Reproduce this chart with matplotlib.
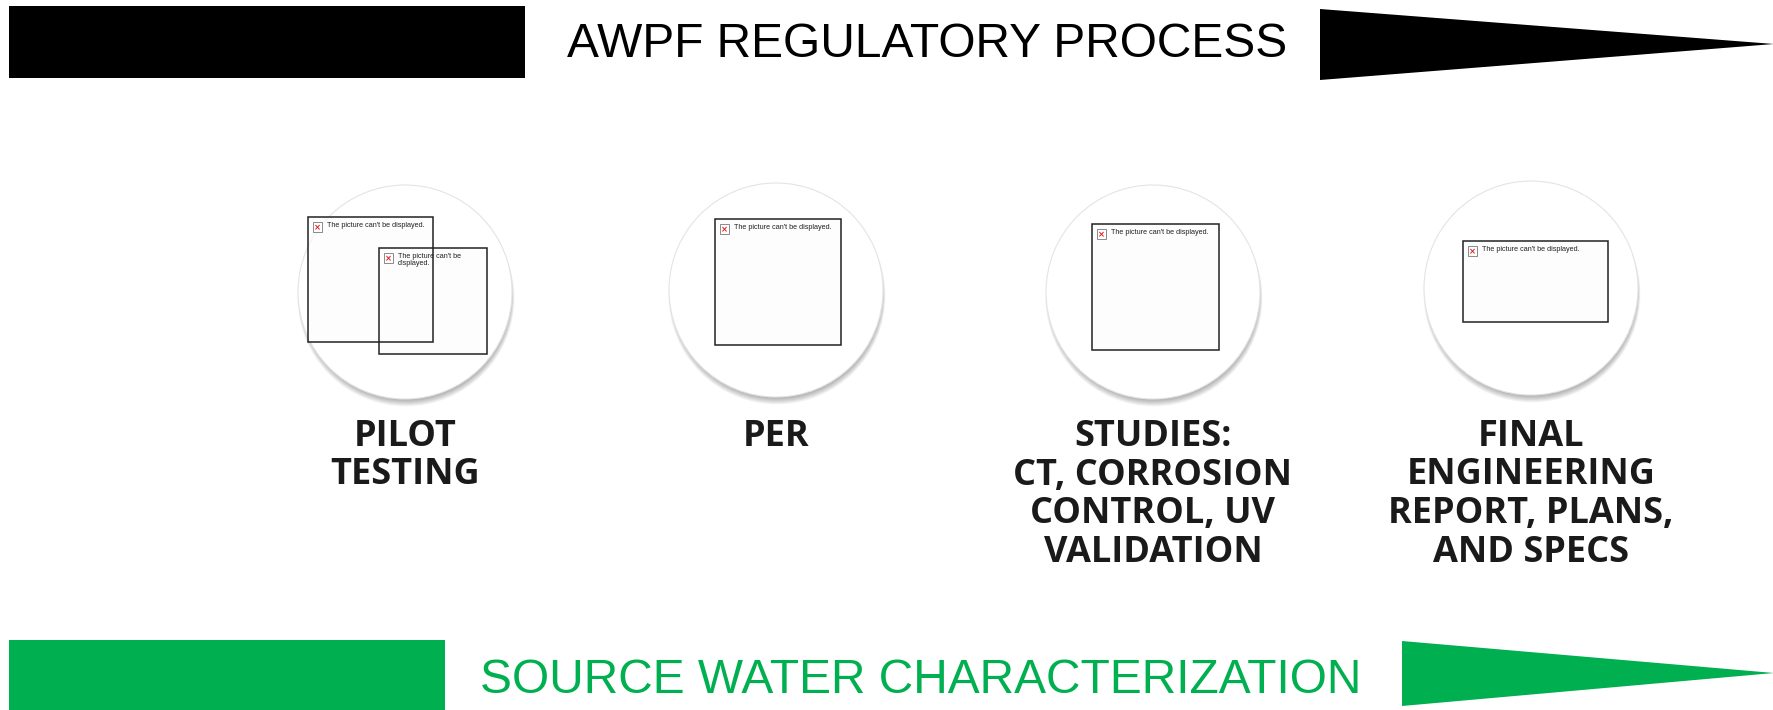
import matplotlib.pyplot as plt
import matplotlib.patches as mpatches

# diagram content
title_top = "AWPF REGULATORY PROCESS"
title_bottom = "SOURCE WATER CHARACTERIZATION"
steps = ["PILOT\nTESTING", "PER", "STUDIES:\nCT, CORROSION\nCONTROL, UV\nVALIDATION",
         "FINAL\nENGINEERING\nREPORT, PLANS,\nAND SPECS"]
placeholder = "The picture can't be displayed."
placeholder_wrapped = "The picture can't be\ndisplayed."

# layout (pixel units, y downwards)
W, H = 1774, 710
circle_x = [405, 776, 1153, 1531]
circle_y = [292, 290, 292, 288]
radius = 107
# boxes: (circle index, x0, y0, x1, y1, wrapped text)
boxes = [
    (0, 308, 217, 433, 342, False),
    (0, 379, 248, 487, 354, True),
    (1, 715, 219, 841, 345, False),
    (2, 1092, 224, 1219, 350, False),
    (3, 1463, 241, 1608, 322, False),
]
label_base = 446
label_step = 38.5

black = "#000000"
green = "#00B050"

fig = plt.figure(figsize=(W / 100, H / 100), dpi=100)
ax = fig.add_axes([0, 0, 1, 1])
ax.set_xlim(0, W)
ax.set_ylim(H, 0)
ax.axis("off")

# top banner
ax.add_patch(mpatches.Rectangle((9, 6), 516, 72, color=black, lw=0))
ax.add_patch(mpatches.Polygon([(1320, 9), (1320, 80), (1774, 44)], closed=True, color=black, lw=0))
ax.text(927, 57, title_top, ha="center", va="baseline", fontsize=34.5,
        family="Liberation Sans", color=black)

# bottom banner
ax.add_patch(mpatches.Rectangle((9, 640), 436, 75, color=green, lw=0))
ax.add_patch(mpatches.Polygon([(1402, 641), (1402, 706), (1774, 673)], closed=True, color=green, lw=0))
ax.text(921, 693, title_bottom, ha="center", va="baseline", fontsize=34.5,
        family="Liberation Sans", color=green)

# circles
for cx, cy in zip(circle_x, circle_y):
    # soft shadow, mostly below the disc
    for k in range(12):
        ax.add_patch(mpatches.Circle((cx + 1, cy + 6 - k * 0.35), radius + 1.5 - k * 0.45,
                                     color="#000000", alpha=0.035, lw=0))
    ax.add_patch(mpatches.Circle((cx, cy), radius, facecolor="white", edgecolor="#e4e4e4", lw=0.8))
    # very faint shading toward the rim
    for k in range(8):
        ax.add_patch(mpatches.Circle((cx + 2, cy - 2), radius - 4 - k * 3,
                                     facecolor="#ffffff", alpha=0.0, edgecolor="#f3f3f3",
                                     lw=0.0))

# missing-picture placeholders
for ci, x0, y0, x1, y1, wrapped in boxes:
    ax.add_patch(mpatches.Rectangle((x0, y0), x1 - x0, y1 - y0, facecolor="#fdfdfd", alpha=0.6,
                                    edgecolor="none"))
for ci, x0, y0, x1, y1, wrapped in boxes:
    ax.add_patch(mpatches.Rectangle((x0, y0), x1 - x0, y1 - y0, facecolor="none",
                                    edgecolor="#222222", lw=1.1))
    ax.add_patch(mpatches.Rectangle((x0 + 5, y0 + 5), 9, 10, facecolor="white",
                                    edgecolor="#777777", lw=0.6))
    ax.text(x0 + 9.5, y0 + 10.5, "×", ha="center", va="center", fontsize=6,
            color="#e02020", fontweight="bold")
    ax.text(x0 + 19, y0 + 5, placeholder_wrapped if wrapped else placeholder,
            ha="left", va="top", fontsize=5.2, family="Liberation Sans", color="#222222",
            linespacing=1.0)

# step labels
for cx, label in zip(circle_x, steps):
    for i, line in enumerate(label.split("\n")):
        ax.text(cx, label_base + i * label_step, line, ha="center", va="baseline",
                fontsize=26, fontweight="bold", family="Open Sans", color="#1a1a1a")

fig.savefig("out.png", dpi=100)
